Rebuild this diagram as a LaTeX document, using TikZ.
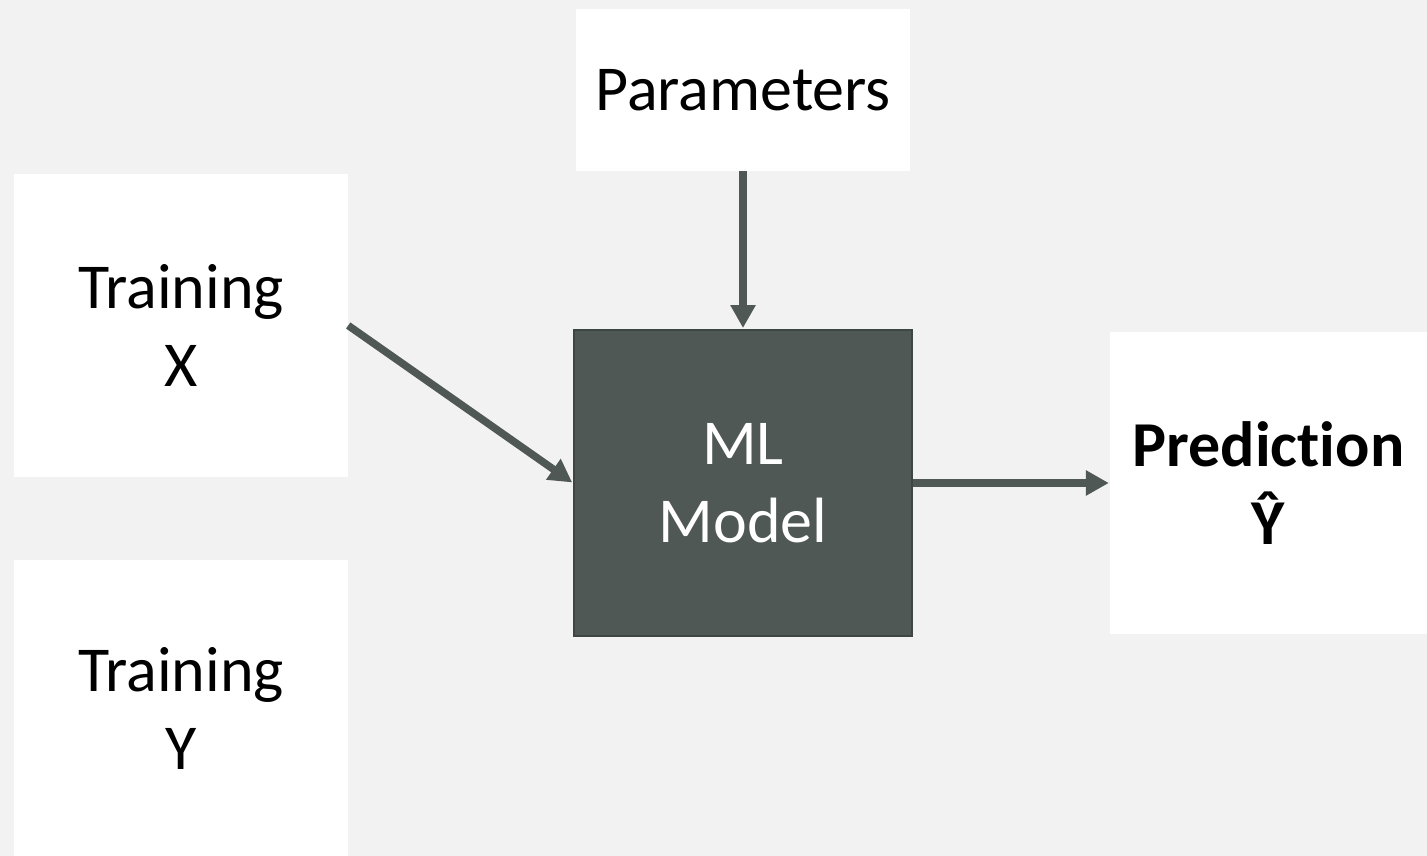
\documentclass[tikz,border=0pt]{standalone}
\usepackage{fontspec}
\setmainfont[Ligatures=NoCommon]{Carlito}
\usetikzlibrary{arrows.meta}
\definecolor{bg}{HTML}{F2F2F2}
\definecolor{modelfill}{HTML}{505855}
\definecolor{modeledge}{HTML}{3E4643}
\definecolor{arrowc}{HTML}{505855}
\tikzset{
  panel/.style={fill=white, draw=none, inner sep=0pt, align=center,
    font=\fontsize{64}{78}\selectfont},
  model/.style={fill=modelfill, draw=modeledge, line width=2pt, inner sep=0pt,
    align=center, text=white, font=\fontsize{64}{78}\selectfont},
  flow/.style={draw=arrowc, line width=7.5pt,
    -{Triangle[length=23pt,width=24pt]}, shorten >=1pt}
}
\begin{document}
\begin{tikzpicture}[x=1pt,y=-1pt]
  \useasboundingbox[fill=bg] (0,0) rectangle (1427,856);
  \node[panel, minimum width=334pt, minimum height=162pt] (params) at (743,90) {Parameters};
  \node[panel, minimum width=334pt, minimum height=303pt] (trainx) at (181,325.5) {Training\\X};
  \node[panel, minimum width=334pt, minimum height=296pt] (trainy) at (181,708) {Training\\Y};
  \node[model, minimum width=338pt, minimum height=306pt] (model) at (743,483) {ML\\Model};
  \node[panel, minimum width=317pt, minimum height=302pt, font=\fontsize{64}{78}\selectfont\bfseries] (pred) at (1268.5,483) {Predic\kern0pt tion\\Ŷ};
  \draw[flow] (params.south) -- (model.north);
  \draw[flow] (trainx.east) -- (model.west);
  \draw[flow] (model.east) -- (pred.west);
\end{tikzpicture}
\end{document}
